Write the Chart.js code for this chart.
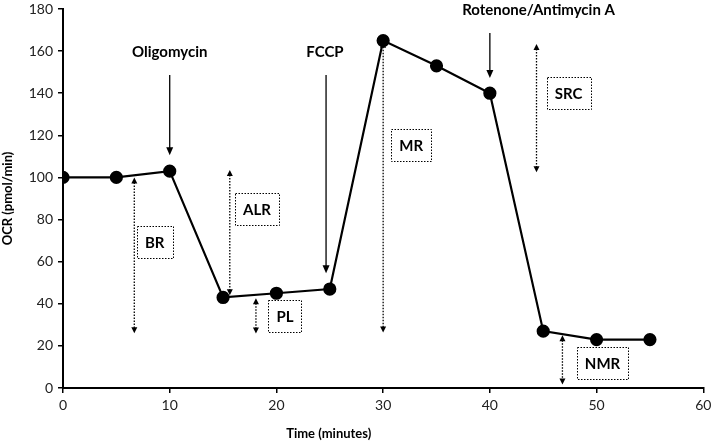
<!DOCTYPE html>
<html>
<head>
<meta charset="utf-8">
<script src="https://cdn.jsdelivr.net/npm/chart.js@4"></script>
<style>
  html, body { margin: 0; padding: 0; background: #fff; }
  #wrap { width: 711px; height: 443px; position: relative; }
</style>
</head>
<body>
<div id="wrap"><canvas id="c"></canvas></div>
<script>
// Curva de OCR (Seahorse) con inyecciones y parametros marcados
const tiempos = [0, 5, 10, 15, 20, 25, 30, 35, 40, 45, 50, 55];
const ocr = [100, 100, 103, 43, 45, 47, 165, 153, 140, 27, 23, 23];

// inyecciones: nombre, tiempo, y de la etiqueta, inicio y fin de la flecha
const inyNombres = ["Oligomycin", "FCCP", "Rotenone/Antimycin A"];
const inyX = [10, 24.65, 40];
const inyLabelX = [10, 24.55, 44.56];
const inyLabelY = [159.6, 159.6, 179.6];
const inyDesde = [148.7, 148.7, 168.6];
const inyHasta = [110.6, 54.5, 147.2];

// parametros: flecha punteada doble y caja con etiqueta
const parNombres = ["BR", "ALR", "PL", "MR", "SRC", "NMR"];
const parX = [6.68, 15.63, 18.08, 30.0, 44.37, 46.8];
const parArriba = [100, 103.5, 42.6, 164.4, 163.4, 25.0];
const parAbajo = [26, 44.0, 25.9, 26.4, 102.5, 1.7];
const cajaX = [8.59, 18.17, 20.8, 32.63, 47.37, 50.56];
const cajaY = [69.2, 84.8, 34.0, 115.4, 140.1, 11.7];

const FONT = "Lato, 'Open Sans', sans-serif";

function punta(ctx, x, y, dir, largo, ancho) {
  ctx.beginPath();
  ctx.moveTo(x, y);
  ctx.lineTo(x - ancho, y - dir * largo);
  ctx.lineTo(x + ancho, y - dir * largo);
  ctx.closePath();
  ctx.fill();
}

const anotaciones = {
  id: "anotaciones",
  beforeDatasetsDraw(chart) {
    const { ctx, scales: { x, y } } = chart;
    ctx.save();
    ctx.fillStyle = "#000";
    ctx.strokeStyle = "#000";

    // flechas de inyeccion
    ctx.font = "bold 15px " + FONT;
    ctx.textAlign = "center";
    ctx.textBaseline = "middle";
    inyNombres.forEach((n, i) => {
      ctx.fillText(n, x.getPixelForValue(inyLabelX[i]), y.getPixelForValue(inyLabelY[i]));
      const px = x.getPixelForValue(inyX[i]);
      const y1 = y.getPixelForValue(inyDesde[i]), y2 = y.getPixelForValue(inyHasta[i]);
      ctx.lineWidth = 1.3;
      ctx.setLineDash([]);
      ctx.beginPath();
      ctx.moveTo(px, y1);
      ctx.lineTo(px, y2 - 6);
      ctx.stroke();
      punta(ctx, px, y2, 1, 8, 3.5);
    });

    // flechas punteadas y cajas
    parNombres.forEach((n, i) => {
      const px = x.getPixelForValue(parX[i]);
      const ya = y.getPixelForValue(parArriba[i]), yb = y.getPixelForValue(parAbajo[i]);
      ctx.lineWidth = 1.3;
      ctx.setLineDash([1.5, 1.5]);
      ctx.beginPath();
      ctx.moveTo(px, ya + 5);
      ctx.lineTo(px, yb - 5);
      ctx.stroke();
      ctx.setLineDash([]);
      punta(ctx, px, ya, -1, 6, 3);
      punta(ctx, px, yb, 1, 6, 3);

      ctx.font = "bold 15px " + FONT;
      const cx = x.getPixelForValue(cajaX[i]), cy = y.getPixelForValue(cajaY[i]);
      const w = ctx.measureText(n).width + 16, h = 32;
      ctx.lineWidth = 1;
      ctx.setLineDash([1.5, 1.5]);
      ctx.strokeRect(Math.round(cx - w / 2) + 0.5, Math.round(cy - h / 2) + 0.5, Math.round(w), h);
      ctx.setLineDash([]);
      ctx.fillText(n, cx, cy + 1);
    });

    // titulo del eje x (desplazado como en el original)
    ctx.font = "bold 13px " + FONT;
    ctx.fillText("Time (minutes)", x.getPixelForValue(24.9), 434);
    ctx.restore();
  },
};

new Chart(document.getElementById("c"), {
  type: "line",
  data: {
    datasets: [{
      data: tiempos.map((t, i) => ({ x: t, y: ocr[i] })),
      borderColor: "#000",
      backgroundColor: "#000",
      borderWidth: 2.2,
      pointRadius: 5.5,
      pointBackgroundColor: "#000",
      tension: 0,
    }],
  },
  options: {
    responsive: true,
    maintainAspectRatio: false,
    animation: false,
    layout: { padding: { top: 9, right: 4, left: 0, bottom: 0 } },
    plugins: { legend: { display: false }, tooltip: { enabled: false } },
    scales: {
      x: {
        type: "linear",
        min: 0, max: 60,
        afterFit: (s) => { s.height = 55; s.paddingRight = 0; s.paddingLeft = 0; },
        ticks: { stepSize: 10, color: "#222", font: { family: FONT, size: 14 }, padding: 4 },
        grid: { drawOnChartArea: false, tickLength: 5, color: "#000", lineWidth: 1.5 },
        border: { color: "#000", width: 2 },
      },
      y: {
        min: 0, max: 180,
        afterFit: (s) => { s.width = 63; s.paddingTop = 0; s.paddingBottom = 0; },
        ticks: { stepSize: 20, color: "#222", font: { family: FONT, size: 14 }, padding: 5 },
        grid: { drawOnChartArea: false, tickLength: 5, color: "#000", lineWidth: 1.5 },
        border: { color: "#000", width: 2 },
        title: { display: true, text: "OCR (pmol/min)", color: "#000", font: { family: FONT, size: 13, weight: "bold" }, padding: 0 },
      },
    },
  },
  plugins: [anotaciones],
});
</script>
</body>
</html>
